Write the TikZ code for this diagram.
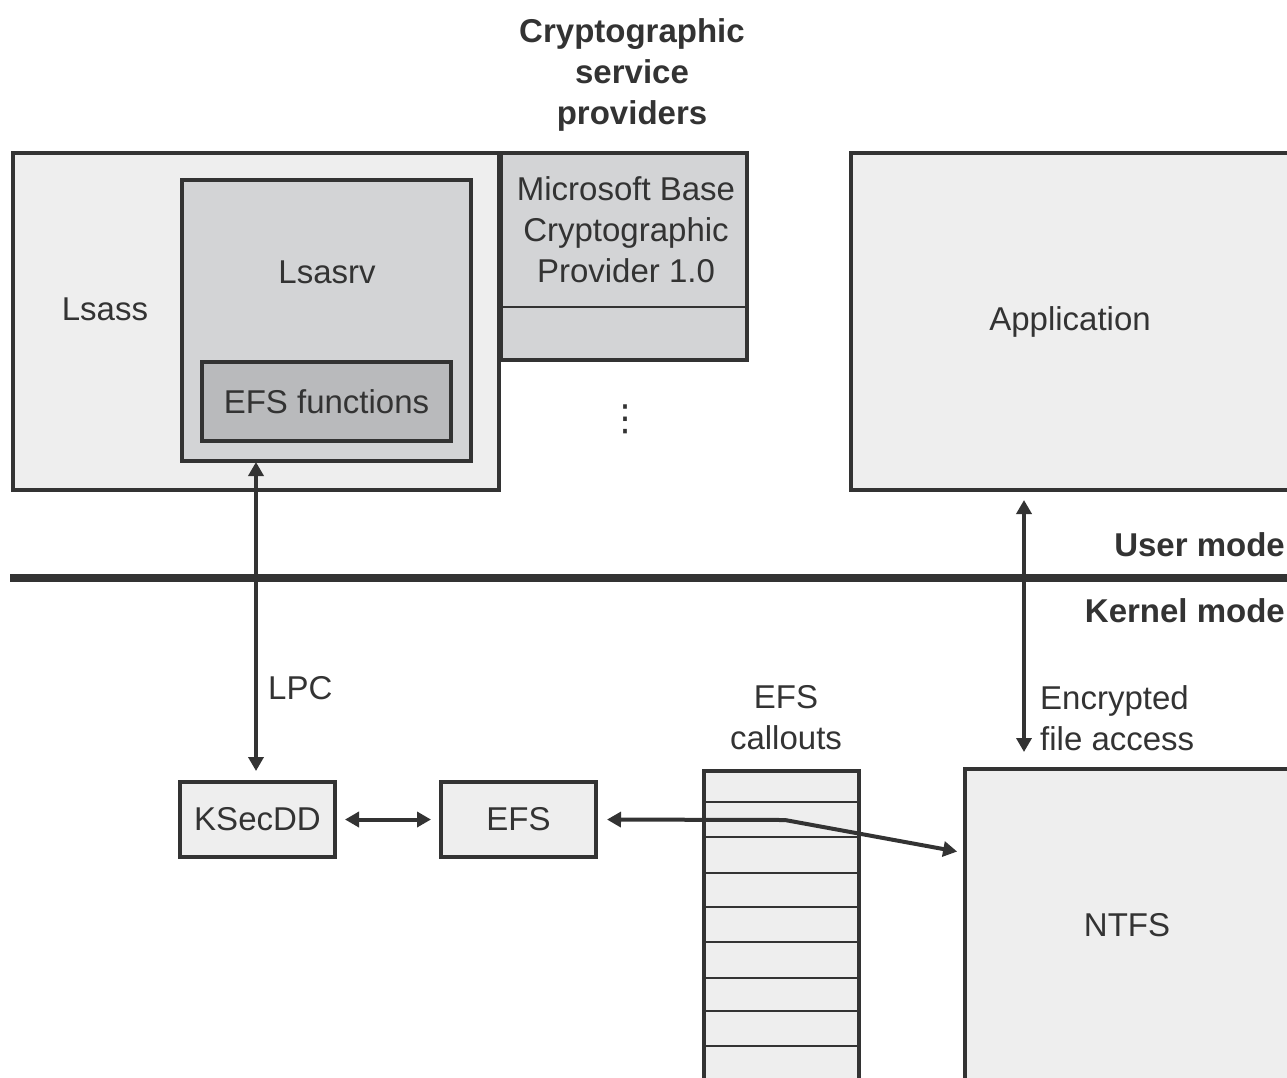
\documentclass[tikz,border=0pt]{standalone}
\usepackage{fontspec}
\setmainfont{Liberation Sans}
\newfontfamily\symfont{DejaVu Sans}
\usetikzlibrary{arrows.meta}
\definecolor{ln}{HTML}{333333}
\definecolor{lt}{HTML}{EEEEEE}
\definecolor{md}{HTML}{D3D4D6}
\definecolor{dk}{HTML}{B9BABC}
\begin{document}
\begin{tikzpicture}[x=1pt,y=-1pt,
  box/.style={draw=ln, line width=4pt, inner sep=0pt, outer sep=0pt, anchor=north west,
              font=\fontsize{33}{41}\selectfont, text=ln, align=center},
  lbl/.style={font=\fontsize{33}{41}\selectfont, text=ln, align=center, inner sep=0pt},
  boldlbl/.style={font=\fontsize{33}{41}\selectfont\bfseries, text=ln, align=center, inner sep=0pt},
  tip/.tip={Triangle[length=14pt,width=15pt]},
  conn/.style={draw=ln, line width=4pt, tip-tip},
  thin/.style={draw=ln, line width=2pt}]
\useasboundingbox (0,0) rectangle (1287,1077);
\clip (0,0) rectangle (1287,1077);

% user / kernel mode line
\coordinate (ml) at (10,578);
\coordinate (mr) at (1300,578);
\draw[ln, line width=8pt] (ml) -- (mr);

% top boxes
\node[box, fill=lt, minimum width=486pt, minimum height=337pt] (lsass) at (13,153) {};
\node[box, fill=md, minimum width=289pt, minimum height=281pt] (lsasrv) at (182,180) {};
\node[box, fill=dk, minimum width=249pt, minimum height=79pt] (efsf) at (202,362) {EFS functions};
\node[box, fill=md, minimum width=246pt, minimum height=207pt] (crypto) at (501,153) {};
\draw[thin] (crypto.west |- 0,307) -- (crypto.east |- 0,307);
\node[box, fill=lt, minimum width=438pt, minimum height=337pt] (app) at (851,153) {Application};

\node[lbl] (lsasslbl) at (105,309) {Lsass};
\node[lbl] (lsasrvlbl) at (327,272) {Lsasrv};
\node[lbl] (cryptolbl) at (626,230) {Microsoft Base\\Cryptographic\\Provider 1.0};
\node[text=ln, inner sep=0pt, font=\symfont\fontsize{36}{36}\selectfont] (dots) at (625,419) {⋮};
\node[boldlbl] (title) at (632,75) {Cryptographic\\service\\providers};

\node[boldlbl, anchor=east] (um) at (1285,545) {User mode};
\node[boldlbl, anchor=east] (km) at (1285,611) {Kernel mode};

% kernel boxes
\node[box, fill=lt, minimum width=155pt, minimum height=75pt] (ksec) at (180,782) {KSecDD};
\node[box, fill=lt, minimum width=155pt, minimum height=75pt] (efs) at (441,782) {EFS};
\node[box, fill=lt, minimum width=155pt, minimum height=330pt] (callouts) at (704,771) {};
\foreach \yy in {802,837,873,907,942,978,1011,1046}
  \draw[thin] (callouts.west |- 0,\yy) -- (callouts.east |- 0,\yy);
\node[box, fill=lt, minimum width=324pt, minimum height=312pt] (ntfs) at (965,769) {NTFS};

\node[lbl, anchor=west] (lpc) at (268,688) {LPC};
\node[lbl] (calloutslbl) at (786,718) {EFS\\callouts};
\node[lbl, anchor=west, align=left] (enclbl) at (1040,718) {Encrypted\\file access};

% connectors
\draw[conn, shorten <=1pt, shorten >=11pt] (lsasrv.south -| 256,0) -- (ksec.north -| 256,0);
\draw[conn, shorten <=10pt, shorten >=10pt] (ksec.east) -- (efs.west);
\coordinate (bend) at (785,820);
\draw[conn, shorten <=11pt, shorten >=8pt] (efs.east) -- (bend) -- (ntfs.west |- 0,853);
\draw[conn, shorten <=10pt, shorten >=17pt] (app.south -| 1024,0) -- (ntfs.north -| 1024,0);
\end{tikzpicture}
\end{document}
